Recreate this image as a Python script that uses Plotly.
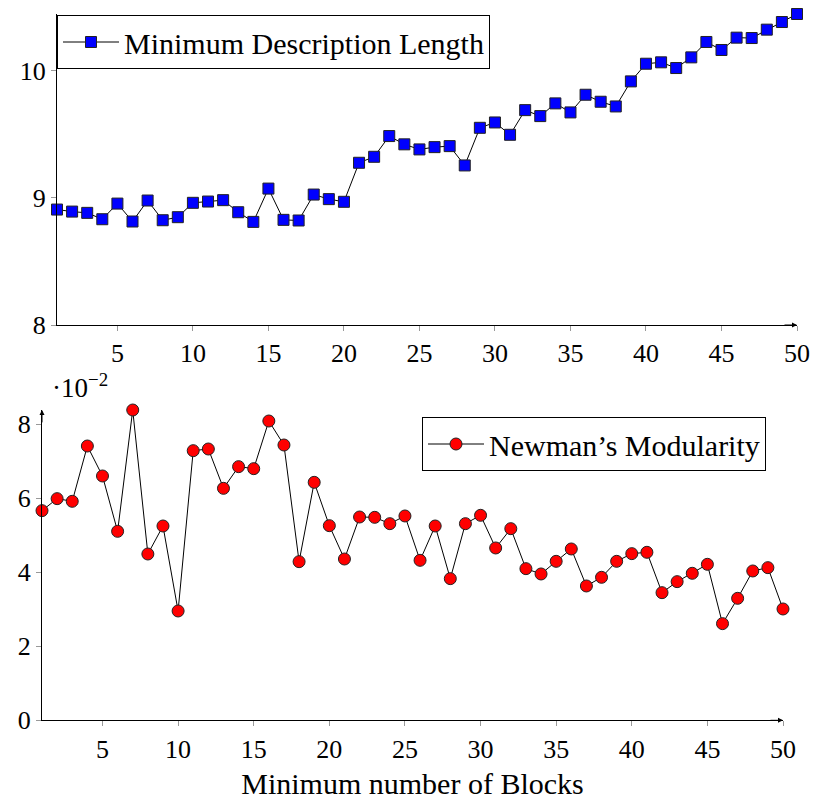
import plotly.graph_objects as go

blocks = list(range(1, 51))

mdl = [8.908, 8.892, 8.882, 8.832, 8.955, 8.814, 8.979, 8.824, 8.848, 8.961,
       8.971, 8.982, 8.887, 8.811, 9.073, 8.827, 8.822, 9.026, 8.990, 8.969,
       9.276, 9.323, 9.486, 9.421, 9.381, 9.399, 9.407, 9.255, 9.551, 9.593,
       9.496, 9.690, 9.643, 9.743, 9.672, 9.811, 9.756, 9.719, 9.916, 10.055,
       10.066, 10.021, 10.105, 10.226, 10.163, 10.260, 10.257, 10.323, 10.383, 10.446]

# Newman's modularity, in units of 10^-2
modularity = [5.667, 5.991, 5.919, 7.414, 6.604, 5.108, 8.387, 4.495, 5.252, 2.955,
              7.288, 7.333, 6.270, 6.856, 6.802, 8.090, 7.441, 4.288, 6.432, 5.261,
              4.360, 5.495, 5.486, 5.315, 5.523, 4.324, 5.252, 3.829, 5.315, 5.541,
              4.658, 5.180, 4.099, 3.955, 4.297, 4.631, 3.631, 3.865, 4.297, 4.505,
              4.541, 3.450, 3.748, 3.973, 4.216, 2.613, 3.297, 4.036, 4.126, 3.009]

x_ticks = [5, 10, 15, 20, 25, 30, 35, 40, 45, 50]
mdl_ticks = [8, 9, 10]
mod_ticks = [0, 2, 4, 6, 8]

FONT = "Liberation Serif"
W, H = 813, 804

fig = go.Figure()
fig.add_trace(go.Scatter(
    x=blocks, y=mdl, mode="lines+markers", name="Minimum Description Length",
    line=dict(color="black", width=1),
    marker=dict(symbol="square", size=11, color="#0000ff", line=dict(color="#222", width=1)),
    cliponaxis=False, xaxis="x", yaxis="y", legend="legend"))
fig.add_trace(go.Scatter(
    x=blocks, y=modularity, mode="lines+markers", name="Newman’s Modularity",
    line=dict(color="black", width=1),
    marker=dict(symbol="circle", size=12, color="#ff0000", line=dict(color="#222", width=1)),
    cliponaxis=False, xaxis="x2", yaxis="y2", legend="legend2"))

top_dom_x = [57 / W, 797 / W]
bot_dom_x = [42 / W, 783 / W]
top_dom_y = [(H - 325) / H, (H - 13.5) / H]
bot_dom_y = [(H - 720.3) / H, (H - 409.9) / H]
top_range_y = [8, 10.45]
bot_range_y = [0, 8.39]
xr = [1, 50]

tickfont = dict(family=FONT, size=26, color="black")
common_main = dict(showgrid=False, zeroline=False, showline=True, linecolor="black",
                   linewidth=1, ticks="outside", ticklen=5, tickcolor="#999",
                   tickwidth=1, tickfont=tickfont, automargin=False)
common_over = dict(showgrid=False, zeroline=False, showline=False, ticks="inside",
                   ticklen=5, tickcolor="#999", tickwidth=1, showticklabels=False,
                   automargin=False)

fig.update_layout(
    width=W, height=H, margin=dict(l=0, r=0, t=0, b=0),
    paper_bgcolor="white", plot_bgcolor="white",
    font=dict(family=FONT, size=30, color="black"),
    xaxis=dict(domain=top_dom_x, range=xr, anchor="y", tickvals=x_ticks, **common_main),
    yaxis=dict(domain=top_dom_y, range=top_range_y, anchor="x", tickvals=mdl_ticks, **common_main),
    xaxis2=dict(domain=bot_dom_x, range=xr, anchor="y2", tickvals=x_ticks,
                title=dict(text="Minimum number of Blocks", font=dict(family=FONT, size=30), standoff=10),
                **common_main),
    yaxis2=dict(domain=bot_dom_y, range=bot_range_y, anchor="x2", tickvals=mod_ticks, **common_main),
    xaxis3=dict(domain=top_dom_x, range=xr, anchor="y", overlaying="x", tickvals=x_ticks, **common_over),
    yaxis3=dict(domain=top_dom_y, range=top_range_y, anchor="x", overlaying="y", tickvals=mdl_ticks, **common_over),
    xaxis4=dict(domain=bot_dom_x, range=xr, anchor="y2", overlaying="x2", tickvals=x_ticks, **common_over),
    yaxis4=dict(domain=bot_dom_y, range=bot_range_y, anchor="x2", overlaying="y2", tickvals=mod_ticks, **common_over),
    legend=dict(x=57 / W, y=(H - 15) / H, xanchor="left", yanchor="top",
                bgcolor="white", bordercolor="black", borderwidth=1,
                font=dict(family=FONT, size=30, color="black"), itemwidth=56),
    legend2=dict(x=422 / W, y=(H - 417) / H, xanchor="left", yanchor="top",
                 bgcolor="white", bordercolor="black", borderwidth=1,
                 font=dict(family=FONT, size=30, color="black"), itemwidth=56),
    showlegend=True,
)

arrow = dict(text="", showarrow=True, arrowhead=2, arrowsize=1, arrowwidth=1, arrowcolor="black")
fig.add_annotation(x=xr[1], y=top_range_y[0], xref="x", yref="y", ax=-14, ay=0, **arrow)
fig.add_annotation(x=xr[1], y=bot_range_y[0], xref="x2", yref="y2", ax=-14, ay=0, **arrow)
fig.add_annotation(x=xr[0], y=bot_range_y[1], xref="x2", yref="y2", ax=0, ay=14, **arrow)
fig.add_annotation(x=50 / W, y=(H - 386) / H, xref="paper", yref="paper",
                   xanchor="left", yanchor="middle", showarrow=False,
                   text="·10<sup>−2</sup>", font=dict(family=FONT, size=27, color="black"))

fig.write_html("out.html", config={"displayModeBar": False},
               post_script="document.body.style.margin='0';")
